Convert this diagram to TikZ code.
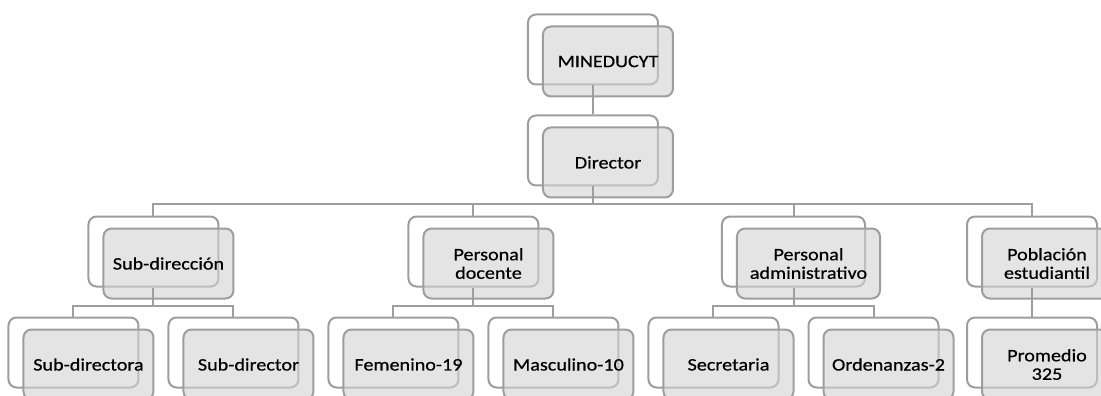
\documentclass[tikz,border=0pt]{standalone}
\usepackage{fontspec}
\setmainfont[FakeStretch=1.15,FakeBold=0.6]{Carlito}
\usetikzlibrary{shadows}

\definecolor{boxline}{HTML}{9E9E9E}
\definecolor{boxfill}{HTML}{D2D2D2}

\tikzset{
  puesto/.style={draw=boxline, line width=2pt, rounded corners=8pt,
    fill=boxfill, fill opacity=0.6, text opacity=1,
    minimum width=130pt, minimum height=70pt, align=center,
    font=\fontsize{17.5}{18.5}\selectfont,
    copy shadow={shadow xshift=-15pt, shadow yshift=12pt,
      fill=white, fill opacity=1, draw=boxline}},
  ancho/.style={minimum width=143pt}
}

\begin{document}
\begin{tikzpicture}[x=1pt, y=1pt, level distance=101pt,
  every node/.style={puesto},
  edge from parent/.style={draw=boxline, line width=2pt},
  edge from parent path={([xshift=-15pt,yshift=12pt]\tikzparentnode.south)
    |- ([xshift=-15pt,yshift=23pt]\tikzchildnode.north)
    -- ([xshift=-15pt,yshift=12pt]\tikzchildnode.north)}]
  \tikzstyle{level 2}=[sibling distance=320pt]
  \tikzstyle{level 3}=[sibling distance=160pt]
  \useasboundingbox (-608,-334.5) rectangle (493,61.5);
  \node (mineducyt) {MINEDUCYT}
   child {node (director) {Director}
          child[xshift=40.5pt] {node (subdireccion) {Sub-dirección}
                 child {node (subdirectora) {Sub-directora}}
                 child {node (subdirector) {Sub-director}}
                }
          child[xshift=40.5pt] {node (docente) {Personal\\docente}
                 child {node (femenino) {Femenino-19}}
                 child {node (masculino) {Masculino-10}}
                }
          child[xshift=40.5pt] {node[ancho] (administrativo) {Personal\\administrativo}
                 child {node (secretaria) {Secretaria}}
                 child {node (ordenanzas) {Ordenanzas-2}}
                }
          child[xshift=-41pt] {node (poblacion) {Población\\estudiantil}
                 child {node (promedio) {Promedio\\325}}
                }
         };
\end{tikzpicture}
\end{document}
